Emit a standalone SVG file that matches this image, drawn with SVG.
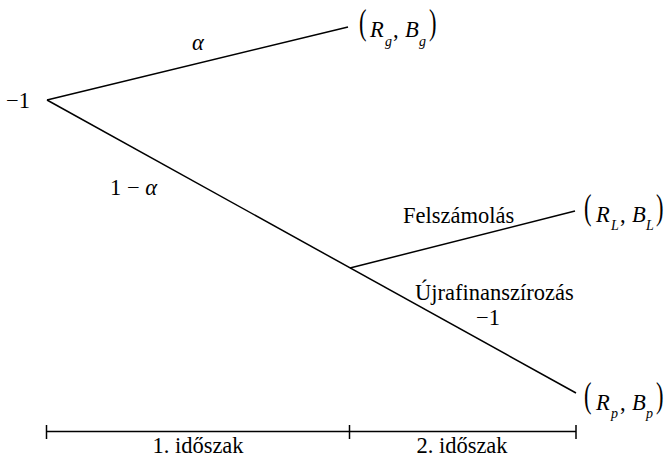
<svg xmlns="http://www.w3.org/2000/svg" width="667" height="457" viewBox="0 0 667 457">
<style>
.t{font-size:22.5px;fill:#000}
.m{font-style:italic}
.sub{font-style:italic;font-size:14px}
.ln{stroke:#000;stroke-width:1.5;fill:none}
.ax{stroke:#000;stroke-width:1.5;fill:none}
</style>
<rect width="667" height="457" fill="#fff"/>
<g id="connectors">
<line class="ln" x1="47" y1="100" x2="348" y2="27"/>
<line class="ln" x1="47" y1="100" x2="576" y2="393"/>
<line class="ln" x1="350" y1="268" x2="575" y2="211"/>
</g>
<g font-family="'Liberation Serif', 'DejaVu Serif', 'Times New Roman', serif" class="t">
<g id="root"><text x="6" y="108">−1</text></g>
<g id="label-alpha"><text class="m" x="192" y="50">α</text></g>
<g id="label-1-alpha"><text x="110" y="195">1 − <tspan class="m">α</tspan></text></g>
<g id="node-g">
<text transform="translate(359,34) scale(1,1.6)">(</text>
<text class="m" x="370" y="37">R</text><text class="sub" x="385" y="46">g</text>
<text x="393" y="37">,</text>
<text class="m" x="405" y="37">B</text><text class="sub" x="419" y="46">g</text>
<text transform="translate(429,34) scale(1,1.6)">)</text>
</g>
<g id="label-felszamolas"><text x="403" y="223">Felszámolás</text></g>
<g id="node-L">
<text transform="translate(584,219) scale(1,1.6)">(</text>
<text class="m" x="596" y="222">R</text><text class="sub" x="611" y="230">L</text>
<text x="620" y="222">,</text>
<text class="m" x="632" y="222">B</text><text class="sub" x="646" y="230">L</text>
<text transform="translate(656,219) scale(1,1.6)">)</text>
</g>
<g id="label-ujra"><text x="415" y="300">Újrafinanszírozás</text><text x="476" y="325">−1</text></g>
<g id="node-p">
<text transform="translate(584,407) scale(1,1.6)">(</text>
<text class="m" x="596" y="410">R</text><text class="sub" x="611" y="418">p</text>
<text x="620" y="410">,</text>
<text class="m" x="632" y="410">B</text><text class="sub" x="646" y="418">p</text>
<text transform="translate(656,407) scale(1,1.6)">)</text>
</g>
<g id="timeline-labels">
<text x="198" y="453" text-anchor="middle">1. időszak</text>
<text x="462" y="453" text-anchor="middle">2. időszak</text>
</g>
</g>
<g id="timeline">
<line class="ax" x1="46.5" y1="431.5" x2="576" y2="431.5"/>
<line class="ax" x1="46.5" y1="425" x2="46.5" y2="439"/>
<line class="ax" x1="349.5" y1="425" x2="349.5" y2="439"/>
<line class="ax" x1="576" y1="425" x2="576" y2="439"/>
</g>
</svg>
